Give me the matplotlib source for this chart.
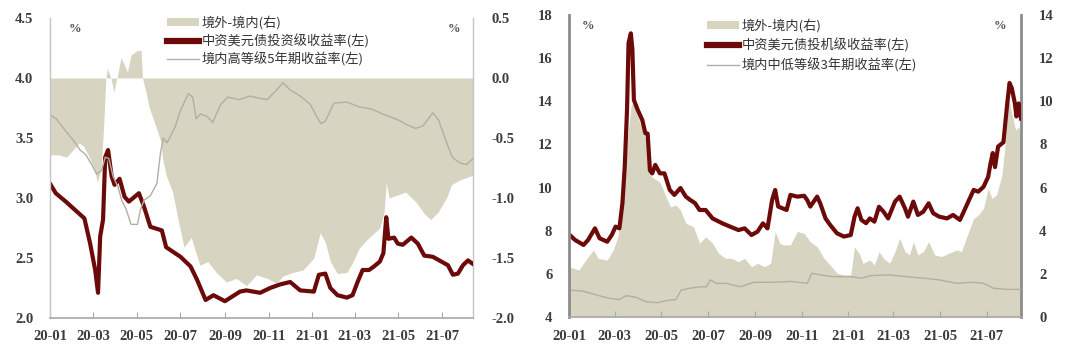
import matplotlib
matplotlib.use("Agg")
import matplotlib.pyplot as plt
import matplotlib.dates as mdates
import pandas as pd
from matplotlib.patches import Patch
from matplotlib.lines import Line2D

plt.rcParams['font.family'] = ['Noto Sans CJK SC', 'DejaVu Sans']
plt.rcParams['axes.unicode_minus'] = False

# ---- 左图：投资级 ----
l_usd_dates = ['2020-01-02', '2020-01-09', '2020-01-23', '2020-02-05', '2020-02-18', '2020-02-26',
               '2020-03-04', '2020-03-08', '2020-03-11', '2020-03-15', '2020-03-18', '2020-03-22',
               '2020-03-27', '2020-03-31', '2020-04-07', '2020-04-14', '2020-04-20', '2020-05-04',
               '2020-05-11', '2020-05-20', '2020-06-05', '2020-06-11', '2020-07-01', '2020-07-15',
               '2020-07-24', '2020-08-05', '2020-08-16', '2020-09-01', '2020-09-22', '2020-10-01',
               '2020-10-20', '2020-11-03', '2020-11-17', '2020-12-01', '2020-12-15', '2021-01-03',
               '2021-01-10', '2021-01-19', '2021-01-26', '2021-02-05', '2021-02-18', '2021-02-26',
               '2021-03-05', '2021-03-12', '2021-03-21', '2021-03-28', '2021-04-05', '2021-04-10',
               '2021-04-14', '2021-04-17', '2021-04-25', '2021-04-30', '2021-05-07', '2021-05-19',
               '2021-05-28', '2021-06-06', '2021-06-18', '2021-06-27', '2021-07-09', '2021-07-16',
               '2021-07-23', '2021-07-30', '2021-08-06', '2021-08-13']
l_usd_vals = [3.11, 3.04, 2.97, 2.90, 2.83, 2.62, 2.40, 2.21, 2.68, 2.82, 3.34, 3.40,
              3.18, 3.11, 3.16, 3.01, 2.97, 3.04, 2.93, 2.76, 2.73, 2.59, 2.51, 2.43,
              2.32, 2.15, 2.19, 2.14, 2.22, 2.23, 2.21, 2.25, 2.28, 2.30, 2.23, 2.22,
              2.36, 2.37, 2.25, 2.19, 2.17, 2.19, 2.30, 2.40, 2.40, 2.43, 2.47, 2.54,
              2.84, 2.66, 2.67, 2.62, 2.61, 2.67, 2.62, 2.52, 2.51, 2.48, 2.44, 2.36,
              2.37, 2.44, 2.48, 2.45]

l_cn_dates = ['2020-01-01', '2020-01-10', '2020-01-16', '2020-01-24', '2020-02-04', '2020-02-12',
              '2020-02-20', '2020-02-28', '2020-03-06', '2020-03-13', '2020-03-18', '2020-03-23',
              '2020-03-29', '2020-04-05', '2020-04-10', '2020-04-16', '2020-04-23', '2020-05-02',
              '2020-05-06', '2020-05-11', '2020-05-20', '2020-05-29', '2020-06-03', '2020-06-07',
              '2020-06-12', '2020-06-16', '2020-06-24', '2020-07-01', '2020-07-12', '2020-07-18',
              '2020-07-23', '2020-07-29', '2020-08-07', '2020-08-15', '2020-08-26', '2020-09-05',
              '2020-09-21', '2020-10-06', '2020-10-20', '2020-10-30', '2020-11-12', '2020-11-21',
              '2020-12-01', '2020-12-15', '2020-12-29', '2021-01-07', '2021-01-13', '2021-01-19',
              '2021-01-31', '2021-02-18', '2021-03-07', '2021-03-25', '2021-04-13', '2021-05-01',
              '2021-05-13', '2021-05-25', '2021-06-04', '2021-06-18', '2021-06-26', '2021-07-06',
              '2021-07-15', '2021-07-26', '2021-08-04', '2021-08-13']
l_cn_vals = [3.69, 3.66, 3.61, 3.55, 3.47, 3.40, 3.36, 3.28, 3.20, 3.23, 3.34, 3.33,
             3.18, 3.09, 2.98, 2.91, 2.78, 2.78, 2.90, 2.98, 3.02, 3.12, 3.37, 3.50,
             3.46, 3.50, 3.60, 3.73, 3.87, 3.84, 3.66, 3.70, 3.68, 3.63, 3.78, 3.84,
             3.82, 3.85, 3.83, 3.82, 3.90, 3.96, 3.90, 3.85, 3.78, 3.68, 3.62, 3.64,
             3.79, 3.80, 3.76, 3.74, 3.69, 3.65, 3.61, 3.58, 3.60, 3.71, 3.65, 3.48,
             3.34, 3.29, 3.28, 3.33]

l_gap_dates = ['2020-01-01', '2020-01-13', '2020-01-24', '2020-02-11', '2020-02-17', '2020-02-24',
               '2020-03-03', '2020-03-07', '2020-03-12', '2020-03-15', '2020-03-19', '2020-03-21',
               '2020-03-26', '2020-03-30', '2020-04-04', '2020-04-09', '2020-04-13', '2020-04-18',
               '2020-04-23', '2020-04-27', '2020-05-02', '2020-05-07', '2020-05-09', '2020-05-14',
               '2020-05-18', '2020-05-28', '2020-06-04', '2020-06-06', '2020-06-11', '2020-06-20',
               '2020-06-29', '2020-07-06', '2020-07-16', '2020-07-28', '2020-08-08', '2020-08-20',
               '2020-09-03', '2020-09-17', '2020-10-01', '2020-10-15', '2020-10-30', '2020-11-12',
               '2020-11-21', '2020-12-05', '2020-12-19', '2021-01-03', '2021-01-12', '2021-01-19',
               '2021-01-26', '2021-02-05', '2021-02-18', '2021-02-26', '2021-03-07', '2021-03-21',
               '2021-04-05', '2021-04-11', '2021-04-14', '2021-04-18', '2021-05-02', '2021-05-11',
               '2021-05-25', '2021-06-06', '2021-06-15', '2021-06-25', '2021-07-07', '2021-07-14',
               '2021-07-25', '2021-08-04', '2021-08-13']
l_gap_vals = [-0.64, -0.64, -0.66, -0.54, -0.57, -0.65, -0.76, -0.87, -0.77, -0.49, 0.00, 0.08,
              0.00, -0.12, 0.02, 0.17, 0.12, 0.05, 0.19, 0.21, 0.23, 0.23, 0.00, -0.12,
              -0.24, -0.41, -0.54, -0.67, -0.81, -0.95, -1.22, -1.41, -1.33, -1.56, -1.53, -1.62,
              -1.70, -1.67, -1.73, -1.64, -1.67, -1.71, -1.65, -1.62, -1.60, -1.50, -1.29, -1.37,
              -1.53, -1.63, -1.62, -1.54, -1.42, -1.33, -1.25, -1.12, -0.87, -1.00, -0.97, -0.95,
              -1.03, -1.13, -1.18, -1.12, -1.00, -0.89, -0.85, -0.83, -0.81]

# ---- 右图：投机级 ----
r_usd_dates = ['2020-01-02', '2020-01-09', '2020-01-20', '2020-01-26', '2020-02-04', '2020-02-10',
               '2020-02-20', '2020-02-26', '2020-03-02', '2020-03-07', '2020-03-11', '2020-03-14',
               '2020-03-17', '2020-03-19', '2020-03-22', '2020-03-24', '2020-03-26', '2020-03-31',
               '2020-04-06', '2020-04-10', '2020-04-13', '2020-04-16', '2020-04-19', '2020-04-23',
               '2020-04-29', '2020-05-05', '2020-05-12', '2020-05-18', '2020-05-26', '2020-06-02',
               '2020-06-08', '2020-06-14', '2020-06-20', '2020-06-28', '2020-07-07', '2020-07-20',
               '2020-07-30', '2020-08-10', '2020-08-18', '2020-08-27', '2020-09-04', '2020-09-11',
               '2020-09-17', '2020-09-23', '2020-09-27', '2020-10-01', '2020-10-12', '2020-10-17',
               '2020-10-26', '2020-11-04', '2020-11-08', '2020-11-12', '2020-11-21', '2020-11-25',
               '2020-12-02', '2020-12-08', '2020-12-17', '2020-12-26', '2021-01-04', '2021-01-09',
               '2021-01-13', '2021-01-18', '2021-01-24', '2021-01-29', '2021-02-04', '2021-02-10',
               '2021-02-16', '2021-02-22', '2021-03-03', '2021-03-09', '2021-03-16', '2021-03-20',
               '2021-03-27', '2021-04-02', '2021-04-09', '2021-04-16', '2021-04-22', '2021-04-30',
               '2021-05-10', '2021-05-18', '2021-05-27', '2021-06-01', '2021-06-07', '2021-06-14',
               '2021-06-20', '2021-06-27', '2021-07-03', '2021-07-06', '2021-07-09', '2021-07-12',
               '2021-07-16', '2021-07-23', '2021-07-28', '2021-07-31', '2021-08-03', '2021-08-07',
               '2021-08-09', '2021-08-12', '2021-08-15']
r_usd_vals = [7.80, 7.57, 7.34, 7.57, 8.11, 7.65, 7.49, 7.80, 8.19, 8.11, 9.28, 10.97,
              13.6, 16.7, 17.15, 16.4, 14.06, 13.6, 13.13, 12.52, 12.5, 10.8, 10.66, 11.05,
              10.66, 10.66, 9.89, 9.66, 9.98, 9.58, 9.42, 9.28, 8.96, 8.96, 8.57, 8.34,
              8.19, 8.03, 8.11, 7.80, 7.96, 8.34, 8.11, 9.42, 9.89, 9.12, 8.96, 9.66,
              9.58, 9.62, 9.42, 9.12, 9.58, 9.27, 8.57, 8.27, 7.88, 7.73, 7.80, 8.65,
              9.04, 8.50, 8.35, 8.57, 8.42, 9.11, 8.88, 8.57, 9.35, 9.58, 9.04, 8.65,
              9.35, 8.73, 8.88, 9.27, 8.81, 8.65, 8.57, 8.73, 8.50, 8.88, 9.35, 9.89,
              9.81, 10.04, 10.5, 11.1, 11.6, 10.95, 11.9, 12.1, 13.9, 14.85, 14.6, 13.9,
              13.3, 13.9, 13.2]

r_cn_dates = ['2020-01-01', '2020-01-19', '2020-02-06', '2020-02-22', '2020-03-07', '2020-03-16',
              '2020-03-28', '2020-04-11', '2020-04-26', '2020-05-07', '2020-05-20', '2020-05-27',
              '2020-06-07', '2020-06-20', '2020-06-29', '2020-07-04', '2020-07-12', '2020-07-25',
              '2020-08-12', '2020-08-30', '2020-09-25', '2020-10-17', '2020-11-08', '2020-11-14',
              '2020-11-25', '2020-12-13', '2021-01-04', '2021-01-18', '2021-01-31', '2021-02-24',
              '2021-03-18', '2021-04-09', '2021-04-30', '2021-05-23', '2021-06-14', '2021-06-27',
              '2021-07-10', '2021-07-28', '2021-08-15']
r_cn_vals = [5.25, 5.20, 5.02, 4.87, 4.81, 4.99, 4.92, 4.71, 4.66, 4.76, 4.81, 5.25,
             5.33, 5.40, 5.40, 5.72, 5.56, 5.56, 5.40, 5.61, 5.61, 5.65, 5.56, 6.03,
             5.95, 5.87, 5.87, 5.80, 5.92, 5.95, 5.87, 5.80, 5.72, 5.56, 5.61, 5.56,
             5.33, 5.28, 5.28]

r_gap_dates = ['2020-01-01', '2020-01-14', '2020-01-23', '2020-02-02', '2020-02-08', '2020-02-20',
               '2020-02-28', '2020-03-05', '2020-03-09', '2020-03-14', '2020-03-18', '2020-03-22',
               '2020-03-25', '2020-03-31', '2020-04-06', '2020-04-12', '2020-04-18', '2020-04-25',
               '2020-04-30', '2020-05-07', '2020-05-13', '2020-05-20', '2020-05-26', '2020-06-02',
               '2020-06-12', '2020-06-20', '2020-06-28', '2020-07-07', '2020-07-15', '2020-07-24',
               '2020-08-01', '2020-08-10', '2020-08-18', '2020-08-27', '2020-09-04', '2020-09-13',
               '2020-09-21', '2020-09-27', '2020-10-03', '2020-10-08', '2020-10-17', '2020-10-26',
               '2020-11-04', '2020-11-12', '2020-11-21', '2020-11-30', '2020-12-08', '2020-12-17',
               '2020-12-26', '2021-01-04', '2021-01-09', '2021-01-16', '2021-01-20', '2021-01-29',
               '2021-02-04', '2021-02-10', '2021-02-16', '2021-02-24', '2021-03-03', '2021-03-09',
               '2021-03-16', '2021-03-22', '2021-03-27', '2021-04-02', '2021-04-09', '2021-04-16',
               '2021-04-24', '2021-05-03', '2021-05-12', '2021-05-23', '2021-05-29', '2021-06-05',
               '2021-06-14', '2021-06-20', '2021-06-27', '2021-07-03', '2021-07-08', '2021-07-14',
               '2021-07-21', '2021-07-25', '2021-07-30', '2021-08-03', '2021-08-08', '2021-08-12',
               '2021-08-15']
r_gap_vals = [2.33, 2.18, 2.64, 3.11, 2.72, 2.64, 3.11, 3.72, 4.65, 6.5, 8.36, 9.75,
              9.98, 9.29, 8.67, 8.05, 6.5, 6.35, 6.19, 5.58, 5.11, 5.19, 4.96, 4.34,
              4.19, 3.42, 3.72, 3.42, 2.95, 2.72, 2.72, 2.56, 2.72, 2.33, 2.49, 2.33,
              2.49, 3.96, 3.42, 3.34, 3.34, 3.96, 3.88, 3.49, 3.26, 2.72, 2.41, 2.03,
              1.95, 1.95, 3.26, 2.88, 2.49, 2.64, 2.41, 3.03, 2.72, 2.49, 3.03, 3.65,
              3.03, 2.88, 3.49, 2.88, 3.03, 3.49, 2.88, 2.80, 2.95, 3.11, 3.03, 3.72,
              4.57, 4.73, 5.04, 5.97, 5.50, 5.66, 6.58, 7.90, 10.06, 9.44, 8.67, 8.82,
              8.36]

left_labels = ['境外-境内(右)', '中资美元债投资级收益率(左)', '境内高等级5年期收益率(左)']
right_labels = ['境外-境内(右)', '中资美元债投机级收益率(左)', '境内中低等级3年期收益率(左)']

fill_c = '#d8d4c2'
red_c = '#6c0a0a'
gray_c = '#b4ada4'
tick_c = '#3c3c3c'
serif = ['Liberation Serif', 'DejaVu Serif']

fig = plt.figure(figsize=(10.8, 3.5), dpi=100)
ax1 = fig.add_axes([50 / 1080, 1 - 318 / 350, 423 / 1080, 300 / 350])
ax3 = fig.add_axes([569 / 1080, 1 - 317 / 350, 452 / 1080, 302 / 350])


def draw(ax, gap_d, gap_v, usd_d, usd_v, cn_d, cn_v, labels, ylim, rlim, yfmt, end,
         spine_c, spine_w, leg_x, leg_y, leg_sp):
    axr = ax.twinx()
    axr.fill_between(pd.to_datetime(gap_d), 0, gap_v, color=fill_c, lw=0)
    ax.plot(pd.to_datetime(usd_d), usd_v, color=red_c, lw=3.0, solid_joinstyle='round')
    ax.plot(pd.to_datetime(cn_d), cn_v, color=gray_c, lw=1.0)
    ax.set_zorder(axr.get_zorder() + 1)
    ax.patch.set_visible(False)

    ax.set_xlim(pd.Timestamp('2020-01-01'), pd.Timestamp(end))
    ax.set_ylim(*ylim)
    axr.set_ylim(*rlim)
    step = (ylim[1] - ylim[0]) / 5 if yfmt == '%.1f' else 2
    ax.set_yticks([ylim[0] + i * step for i in range(int(round((ylim[1] - ylim[0]) / step)) + 1)])
    axr.set_yticks([rlim[0] + i * step for i in range(int(round((rlim[1] - rlim[0]) / step)) + 1)])
    ax.yaxis.set_major_formatter(plt.FormatStrFormatter(yfmt))
    axr.yaxis.set_major_formatter(plt.FormatStrFormatter(yfmt))

    ax.xaxis.set_major_locator(mdates.MonthLocator(bymonth=[1, 3, 5, 7, 9, 11]))
    ax.xaxis.set_major_formatter(mdates.DateFormatter('%y-%m'))

    for a in (ax, axr):
        a.spines['top'].set_visible(False)
    ax.spines['right'].set_visible(False)
    axr.spines['left'].set_visible(False)
    axr.spines['bottom'].set_visible(False)
    ax.spines['left'].set_color(spine_c)
    ax.spines['left'].set_linewidth(spine_w)
    axr.spines['right'].set_color(spine_c)
    axr.spines['right'].set_linewidth(spine_w)
    ax.spines['bottom'].set_color('#a8a8a8')
    ax.spines['bottom'].set_linewidth(1.2)

    ax.tick_params(axis='x', direction='in', length=4, width=0.8, color='#a8a8a8', pad=9)
    ax.tick_params(axis='y', length=0, pad=12)
    axr.tick_params(axis='y', length=0, pad=13)
    for t in ax.get_xticklabels() + ax.get_yticklabels() + axr.get_yticklabels():
        t.set_family(serif)
        t.set_fontweight('bold')
        t.set_fontsize(10.5)
        t.set_color(tick_c)

    handles = [Patch(facecolor=fill_c, edgecolor='none'),
               Line2D([], [], color=red_c, lw=4.5),
               Line2D([], [], color=gray_c, lw=1.0)]
    ax.legend(handles, labels, loc='upper left', bbox_to_anchor=(leg_x, leg_y), frameon=False,
              fontsize=9.5, handlelength=2.4, handleheight=0.6, handletextpad=0.2,
              labelspacing=leg_sp, borderaxespad=0, labelcolor='#333333')
    return axr


draw(ax1, l_gap_dates, l_gap_vals, l_usd_dates, l_usd_vals, l_cn_dates, l_cn_vals,
     left_labels, (2.0, 4.5), (-2.0, 0.5), '%.1f', '2021-08-13', '#c4c4c4', 1.0,
     0.265, 1.025, 0.32)
draw(ax3, r_gap_dates, r_gap_vals, r_usd_dates, r_usd_vals, r_cn_dates, r_cn_vals,
     right_labels, (4, 18), (0, 14), '%d', '2021-08-15', '#8c8c8c', 2.0,
     0.294, 1.005, 0.42)

for ax, xs in ((ax1, (0.06, 0.955)), (ax3, (0.042, 0.953))):
    for x in xs:
        ax.text(x, 0.985, '%', transform=ax.transAxes, ha='center', va='top',
                family=serif, fontsize=9, fontweight='bold', color='#555555')

fig.savefig('out.png', dpi=100)
